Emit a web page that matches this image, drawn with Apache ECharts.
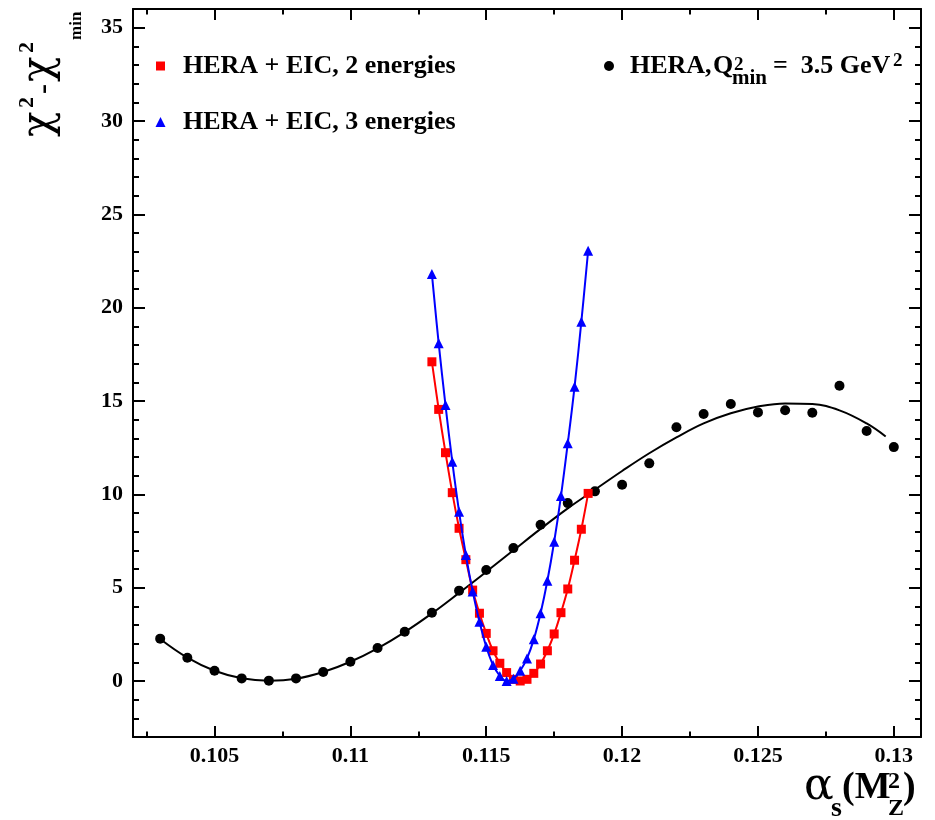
<!DOCTYPE html>
<html><head><meta charset="utf-8">
<script src="https://cdn.jsdelivr.net/npm/echarts@6/dist/echarts.min.js"></script>
<style>html,body{margin:0;padding:0;background:#fff}#c{width:935px;height:820px}</style>
</head><body><div id="c"></div>
<script>
// ---- data ----
const heraX = [0.103,0.104,0.105,0.106,0.107,0.108,0.109,0.110,0.111,0.112,0.113,0.114,0.115,0.116,0.117,0.118,0.119,0.120,0.121,0.122,0.123,0.124,0.125,0.126,0.127,0.128,0.129,0.130];
const heraChi2 = [2.27,1.25,0.55,0.14,0.02,0.14,0.48,1.03,1.77,2.64,3.66,4.84,5.95,7.12,8.37,9.53,10.16,10.51,11.66,13.59,14.30,14.84,14.39,14.50,14.37,15.82,13.39,12.53];
const fitX = [0.103,0.104,0.105,0.106,0.107,0.108,0.109,0.110,0.111,0.112,0.113,0.114,0.115,0.116,0.117,0.118,0.119,0.120,0.121,0.122,0.123,0.124,0.125,0.126,0.127,0.128,0.129,0.1297];
const fitChi2 = [2.25,1.25,0.55,0.15,0.02,0.12,0.48,1.03,1.75,2.62,3.62,4.72,5.85,7.0,8.15,9.25,10.25,11.25,12.2,13.05,13.8,14.34,14.7,14.87,14.84,14.5,13.8,13.1];
const eicX = [0.113,0.11325,0.1135,0.11375,0.114,0.11425,0.1145,0.11475,0.115,0.11525,0.1155,0.11575,0.116,0.11625,0.1165,0.11675,0.117,0.11725,0.1175,0.11775,0.118,0.11825,0.1185,0.11875];
const eic2Chi2 = [17.1,14.55,12.23,10.09,8.18,6.5,4.87,3.63,2.55,1.62,0.95,0.45,0.09,0.0,0.09,0.41,0.91,1.62,2.52,3.66,4.93,6.47,8.13,10.05];
const eic3Chi2 = [21.8,18.09,14.78,11.75,9.07,6.75,4.8,3.18,1.84,0.86,0.27,0.0,0.12,0.55,1.21,2.23,3.63,5.37,7.46,9.91,12.73,15.76,19.25,23.05];
const xMajor = [0.105,0.11,0.115,0.12,0.125,0.13];
const xMinor = [0.1025,0.1075,0.1125,0.1175,0.1225,0.1275];
const yMajor = [0,5,10,15,20,25,30,35];
const yMinor = [-3,-2,-1,1,2,3,4,6,7,8,9,11,12,13,14,16,17,18,19,21,22,23,24,26,27,28,29,31,32,33,34,36];
const labelEIC2 = 'HERA + EIC, 2 energies';
const labelEIC3 = 'HERA + EIC, 3 energies';

const zip = (a,b) => a.map((v,i)=>[v,b[i]]);
const SERIF = '"Liberation Serif","Times New Roman",serif';
const GREEK = '"DejaVu Serif","Liberation Serif",serif';
const lineBlack = {color:'#000', width:2};

function xAx(pos, vals, len, labels, line){
  return {type:'value', min:0.102, max:0.131, position:pos, gridIndex:0,
    axisLine:{show:line, onZero:false, lineStyle:lineBlack},
    axisTick:{show:true, inside:true, length:len, customValues:vals, lineStyle:{color:'#000',width:2}},
    axisLabel:labels ? {show:true, customValues:vals, margin:8, color:'#000', fontFamily:SERIF, fontWeight:'bold', fontSize:22,
      formatter:v=>String(parseFloat(Number(v).toPrecision(6)))} : {show:false},
    splitLine:{show:false}};
}
function yAx(pos, vals, len, labels, line){
  return {type:'value', min:-3, max:36, position:pos, gridIndex:0,
    axisLine:{show:line, onZero:false, lineStyle:lineBlack},
    axisTick:{show:true, inside:true, length:len, customValues:vals, lineStyle:{color:'#000',width:2}},
    axisLabel:labels ? {show:true, customValues:vals, margin:10, color:'#000', fontFamily:SERIF, fontWeight:'bold', fontSize:22} : {show:false},
    splitLine:{show:false}};
}

// text placed by its baseline (converted to a middle anchor)
const T = (text, x, base, size, weight, fam) => ({type:'text', style:{text, x, y: base - 0.34*size,
  font: (weight||'bold')+' '+size+'px '+(fam||SERIF), fill:'#000', align:'left', verticalAlign:'middle'}});

const chart = echarts.init(document.getElementById('c'), null, {renderer:'canvas'});
chart.setOption({
  animation:false,
  backgroundColor:'#fff',
  grid:{left:133, right:14, top:9, bottom:83, containLabel:false},
  xAxis:[xAx('bottom', xMajor, 11, true, true), xAx('bottom', xMinor, 5.5, false, false),
         xAx('top', xMajor, 11, false, true), xAx('top', xMinor, 5.5, false, false)],
  yAxis:[yAx('left', yMajor, 12, true, true), yAx('left', yMinor, 6, false, false),
         yAx('right', yMajor, 12, false, true), yAx('right', yMinor, 6, false, false)],
  series:[
    {type:'line', name:'fit', data:zip(fitX, fitChi2), smooth:0.4, showSymbol:false, symbol:'none',
     lineStyle:{color:'#000', width:2}, z:2},
    {type:'scatter', name:'HERA', data:zip(heraX, heraChi2), symbol:'circle', symbolSize:10,
     itemStyle:{color:'#000', opacity:1}, z:3},
    {type:'line', name:labelEIC2, data:zip(eicX, eic2Chi2), smooth:0.4, symbol:'rect', symbolSize:9, showAllSymbol:true,
     lineStyle:{color:'#ff0000', width:2}, itemStyle:{color:'#ff0000'}, z:4},
    {type:'line', name:labelEIC3, data:zip(eicX, eic3Chi2), smooth:0.4, symbol:'triangle', symbolSize:10, showAllSymbol:true,
     lineStyle:{color:'#0000ff', width:2}, itemStyle:{color:'#0000ff'}, z:5}
  ],
  graphic:[
    // legend left
    {type:'rect', shape:{x:156, y:61.5, width:9, height:9}, style:{fill:'#ff0000'}},
    T(labelEIC2, 183, 75, 26),
    {type:'polygon', shape:{points:[[160.5,117],[165.5,127],[155.5,127]]}, style:{fill:'#0000ff'}},
    T(labelEIC3, 183, 131, 26),
    // legend right
    {type:'circle', shape:{cx:609, cy:66, r:5}, style:{fill:'#000'}},
    T('HERA,', 630, 75, 26),
    T('Q', 713, 75, 26),
    T('2', 734, 72, 19),
    T('min', 732, 86, 21),
    T('=  3.5 GeV', 773, 75, 26),
    T('2', 893, 68, 19),
    // x axis title
    T('\u03b1', 804, 803, 44, 'normal', GREEK),
    T('s', 831, 818, 28),
    T('(M', 842, 801, 38),
    T('2', 888, 790, 24),
    T('Z', 888, 817, 24),
    T(')', 903, 801, 38),
    // y axis title (rotated, reads bottom to top)
    {type:'group', x:54, y:137, rotation:Math.PI/2, children:[
      T('\u03c7', 0, 0, 42, 'normal', GREEK),
      T('2', 29, -19, 22),
      T('-', 43, 0, 30),
      T('\u03c7', 55, 0, 42, 'normal', GREEK),
      T('2', 84, -19, 22),
      T('min', 97, 28, 17)
    ]}
  ]
});
</script></body></html>
